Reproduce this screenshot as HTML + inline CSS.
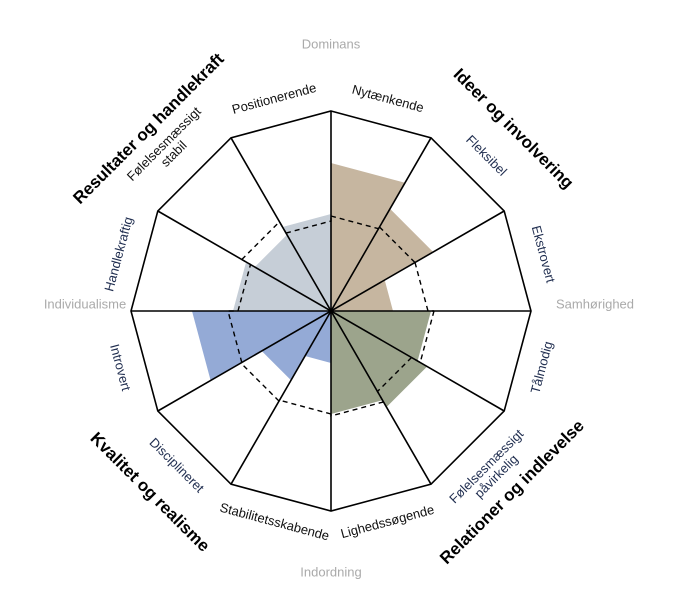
<!DOCTYPE html>
<html><head><meta charset="utf-8"><style>
html,body{margin:0;padding:0;background:#fff;}
svg{display:block;}
text{font-family:"Liberation Sans",sans-serif;}
</style></head><body>
<svg width="680" height="616" viewBox="0 0 680 616" xmlns="http://www.w3.org/2000/svg">
<g transform="translate(331,311)">
  <g stroke="none">
    <polygon fill="#c6b6a0" points="0,0 0,-148 74,-128.2" transform="rotate(0)"/>
    <polygon fill="#c6b6a0" points="0,0 0,-118 59,-102.2" transform="rotate(30)"/>
    <polygon fill="#c6b6a0" points="0,0 0,-62 31,-53.7" transform="rotate(60)"/>
    <polygon fill="#9ca48c" points="0,0 0,-100 50,-86.6" transform="rotate(90)"/>
    <polygon fill="#9ca48c" points="0,0 0,-111 55.5,-96.1" transform="rotate(120)"/>
    <polygon fill="#9ca48c" points="0,0 0,-103 51.5,-89.2" transform="rotate(150)"/>
    <polygon fill="#94aad6" points="0,0 0,-52 26,-45" transform="rotate(180)"/>
    <polygon fill="#94aad6" points="0,0 0,-80 40,-69.3" transform="rotate(210)"/>
    <polygon fill="#94aad6" points="0,0 0,-139 69.5,-120.4" transform="rotate(240)"/>
    <polygon fill="#c6ced7" points="0,0 0,-98 49,-84.9" transform="rotate(270)"/>
    <polygon fill="#c6ced7" points="0,0 0,-88 44,-76.2" transform="rotate(300)"/>
    <polygon fill="#c6ced7" points="0,0 0,-97 48.5,-84" transform="rotate(330)"/>
  </g>
  <g fill="none" stroke="#000" stroke-width="1.4" stroke-dasharray="5,4">
    <path d="M0,-95 L47.5,-82.3 L48.5,-84" transform="rotate(0)"/>
    <path d="M0,-97 L48.5,-84 L48.5,-84" transform="rotate(30)"/>
    <path d="M0,-97 L48.5,-84 L51.5,-89.2" transform="rotate(60)"/>
    <path d="M0,-103 L51.5,-89.2 L46.5,-80.5" transform="rotate(90)"/>
    <path d="M0,-93 L46.5,-80.5 L52.5,-90.9" transform="rotate(120)"/>
    <path d="M0,-105 L52.5,-90.9 L51.5,-89.2" transform="rotate(150)"/>
    <path d="M0,-103 L51.5,-89.2 L52,-90.1" transform="rotate(180)"/>
    <path d="M0,-104 L52,-90.1 L51.5,-89.2" transform="rotate(210)"/>
    <path d="M0,-103 L51.5,-89.2 L46.5,-80.5" transform="rotate(240)"/>
    <path d="M0,-93 L46.5,-80.5 L51.5,-89.2" transform="rotate(270)"/>
    <path d="M0,-103 L51.5,-89.2 L45,-77.9" transform="rotate(300)"/>
    <path d="M0,-90 L45,-77.9 L47.5,-82.3" transform="rotate(330)"/>
  </g>
  <g fill="none" stroke="#000" stroke-width="1.6">
    <polygon points="0,-200 100,-173.2 173.2,-100 200,0 173.2,100 100,173.2 0,200 -100,173.2 -173.2,100 -200,0 -173.2,-100 -100,-173.2"/>
    <line x1="0" y1="-200" x2="0" y2="200"/>
    <line x1="100" y1="-173.2" x2="-100" y2="173.2"/>
    <line x1="173.2" y1="-100" x2="-173.2" y2="100"/>
    <line x1="200" y1="0" x2="-200" y2="0"/>
    <line x1="173.2" y1="100" x2="-173.2" y2="-100"/>
    <line x1="100" y1="173.2" x2="-100" y2="-173.2"/>
  </g>
  <g font-size="13" text-anchor="middle" dominant-baseline="middle">
    <text transform="rotate(15) translate(0,-219)" fill="#111">Nytænkende</text>
    <text transform="rotate(45) translate(0,-219)" fill="#1f2d4f">Fleksibel</text>
    <text transform="rotate(75) translate(0,-219)" fill="#1f2d4f">Ekstrovert</text>
    <text transform="rotate(105) translate(0,-219) rotate(180)" fill="#1f2d4f">Tålmodig</text>
    <text transform="rotate(135) translate(0,-228) rotate(180)" fill="#1f2d4f"><tspan x="0" dy="-7">Følelsesmæssigt</tspan><tspan x="0" dy="14">påvirkelig</tspan></text>
    <text transform="rotate(165) translate(0,-219) rotate(180)" fill="#111">Lighedssøgende</text>
    <text transform="rotate(195) translate(0,-219) rotate(180)" fill="#111">Stabilitetsskabende</text>
    <text transform="rotate(225) translate(0,-219) rotate(180)" fill="#1f2d4f">Disciplineret</text>
    <text transform="rotate(255) translate(0,-219) rotate(180)" fill="#1f2d4f">Introvert</text>
    <text transform="rotate(285) translate(0,-219)" fill="#1f2d4f">Handlekraftig</text>
    <text transform="rotate(315) translate(0,-228)" fill="#111"><tspan x="0" dy="-7">Følelsesmæssigt</tspan><tspan x="0" dy="14">stabil</tspan></text>
    <text transform="rotate(345) translate(0,-219)" fill="#111">Positionerende</text>
  </g>
  <g font-size="17" font-weight="bold" text-anchor="middle" dominant-baseline="middle" fill="#000">
    <text transform="rotate(45) translate(0,-257)">Ideer og involvering</text>
    <text transform="rotate(135) translate(0,-257) rotate(180)">Relationer og indlevelse</text>
    <text transform="rotate(225) translate(0,-257) rotate(180)">Kvalitet og realisme</text>
    <text transform="rotate(315) translate(0,-257)">Resultater og handlekraft</text>
  </g>
</g>
<g font-size="13" fill="#aaaaaa" text-anchor="middle" dominant-baseline="middle">
  <text x="331" y="45">Dominans</text>
  <text x="595" y="305">Samhørighed</text>
  <text x="331" y="573">Indordning</text>
  <text x="85" y="305">Individualisme</text>
</g>
</svg>
</body></html>
